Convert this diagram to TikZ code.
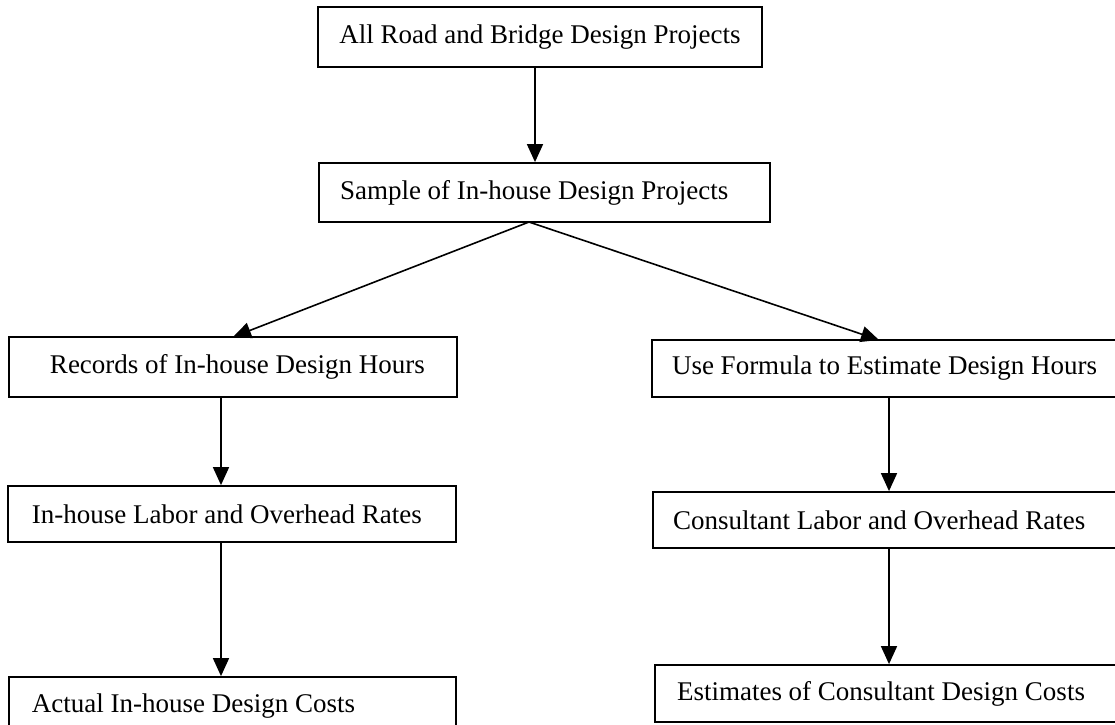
\documentclass[tikz,border=0pt]{standalone}
\usepackage{fontspec}
\setmainfont{Liberation Serif}
\usetikzlibrary{arrows.meta}
\begin{document}
\begin{tikzpicture}[x=1pt,y=-1pt,
  box/.style={draw, line width=1.8pt, rectangle, inner sep=0pt, align=flush left,
    font=\fontsize{27}{31}\selectfont},
  padl/.style={execute at begin node={\hspace*{#1}}},
  arr/.style={line width=1.6pt, -{Triangle[width=16pt,length=18pt]}}]
\useasboundingbox (0,0) rectangle (1115,724);
% boxes
\node[box, align=center, minimum width=444pt, minimum height=60pt] (b1) at (540,37) {All Road and Bridge Design Projects};
\node[box, minimum height=59pt, text width=451pt, padl=21pt] (b2) at (544.5,192.5) {Sample of In-house Design Projects};
\node[box, minimum height=60pt, text width=448pt, padl=41pt] (b3) at (233,367) {Records of In-house Design Hours};
\node[box, minimum height=57pt, text width=473pt, padl=20pt] (b4) at (888.5,368.5) {Use Formula to Estimate Design Hours};
\node[box, minimum height=56pt, text width=448pt, padl=24pt] (b5) at (232,514) {In-house Labor and Overhead Rates};
\node[box, minimum height=56pt, text width=472pt, padl=20pt] (b6) at (889,520) {Consultant Labor and Overhead Rates};
\node[box, minimum height=58pt, text width=447pt, padl=23pt] (b7) at (232.5,706) {Actual In-house Design Costs};
\node[box, minimum height=57pt, text width=470pt, padl=22pt] (b8) at (890,693.5) {Estimates of Consultant Design Costs};
% guide coordinates
\coordinate (c0) at (535,0);
\coordinate (split) at (529,222);
\coordinate (ltip) at (233,337);
\coordinate (rtip) at (879,340);
\coordinate (c1) at (221,0);
\coordinate (c2) at (889,0);
% connectors
\draw[arr] (b1.south -| c0) -- (b2.north -| c0);
\draw[arr] (split) -- (ltip);
\draw[arr] (split) -- (rtip);
\draw[arr] (b3.south -| c1) -- (b5.north -| c1);
\draw[arr] (b5.south -| c1) -- (b7.north -| c1);
\draw[arr] (b4.south -| c2) -- (b6.north -| c2);
\draw[arr] (b6.south -| c2) -- (b8.north -| c2);
\end{tikzpicture}
\end{document}
